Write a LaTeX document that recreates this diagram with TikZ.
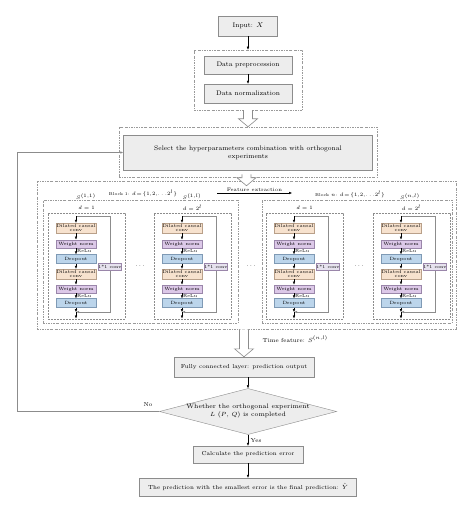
\documentclass[tikz,border=0pt]{standalone}
\usetikzlibrary{shapes.geometric,calc,arrows.meta}

\definecolor{boxgray}{HTML}{EDEDED}
\definecolor{linegray}{HTML}{8C8C8C}
\definecolor{framegray}{HTML}{9A9A9A}
\definecolor{convfill}{HTML}{F7E2CE}
\definecolor{convline}{HTML}{B9A089}
\definecolor{normfill}{HTML}{DCC8E8}
\definecolor{normline}{HTML}{9A86AA}
\definecolor{dropfill}{HTML}{BCD5EB}
\definecolor{dropline}{HTML}{7F9AB5}
\definecolor{onefill}{HTML}{E6E2EE}

% open block arrow between two stages
\newcommand{\hollowarrow}[2]{%
  \coordinate (hs) at (#1 -| #2);
  \draw[linegray, line width=0.6pt, fill=white] ($(hs)+(-4.5,0)$) -- ($(#2)+(-4.5,-8)$)
    -- ($(#2)+(-9.5,-8)$) -- (#2) -- ($(#2)+(9.5,-8)$) -- ($(#2)+(4.5,-8)$) -- ($(hs)+(4.5,0)$);}

\tikzset{
  mainbox/.style={draw=linegray, fill=boxgray, inner sep=0pt, align=center,
    font=\fontsize{6.6}{8}\selectfont},
  smallmain/.style={mainbox, font=\fontsize{5.8}{7}\selectfont},
  frame/.style={draw=framegray, line width=0.5pt,
    dash pattern=on 2pt off 1.2pt on 0.4pt off 1.2pt},
  subframe/.style={draw=linegray, line width=0.8pt, dash pattern=on 1.8pt off 1.2pt},
  layer/.style={inner sep=0pt, minimum width=40pt, align=center,
    font=\fontsize{4.6}{4.8}\selectfont},
  dconv/.style={layer, draw=convline, fill=convfill, minimum height=10pt},
  wnorm/.style={layer, draw=normline, fill=normfill, minimum height=8.5pt},
  drop/.style={layer, draw=dropline, fill=dropfill, minimum height=9pt},
  onebyone/.style={draw=normline, fill=onefill, inner sep=0pt, minimum width=21pt,
    minimum height=7pt, font=\fontsize{4.4}{5}\selectfont},
  res/.style={draw=linegray, line width=0.6pt},
  relu/.style={anchor=west, inner sep=1pt, font=\fontsize{4.4}{5}\selectfont},
  lbl/.style={inner sep=0.5pt, font=\fontsize{5}{6}\selectfont},
  blocklbl/.style={inner sep=0.5pt, font=\fontsize{4.2}{5}\selectfont},
  note/.style={inner sep=0.5pt, font=\fontsize{5.8}{7}\selectfont}
}

\begin{document}
\begin{tikzpicture}[x=1pt, y=-1pt, >={Latex[length=3pt,width=2.6pt]}]
\useasboundingbox (0,0) rectangle (474,513);

% input and preprocessing
\node[mainbox, minimum width=59pt, minimum height=20pt] (input) at (248,26) {Input: $X$};
\node[frame, minimum width=108pt, minimum height=60pt] (prepframe) at (248,80) {};
\node[mainbox, minimum width=88pt, minimum height=18pt] (prep) at (248,65) {Data preprocession};
\node[mainbox, minimum width=88pt, minimum height=19pt] (norm) at (248,93.5) {Data normalization};
\draw[->] (input) -- (prepframe.north);
\draw[->] (prep) -- (norm);

% hyperparameter selection
\node[frame, minimum width=258pt, minimum height=50pt] (selframe) at (248,152) {};
\node[mainbox, minimum width=249pt, minimum height=35pt] (sel) at (248,152.5)
  {Select the hyperparameters combination with orthogonal\\experiments};
\hollowarrow{prepframe.south}{selframe.north}

% TCN blocks
\node[frame, minimum width=419pt, minimum height=148pt] (tcn) at (246.5,255) {};
\node[frame, minimum width=195pt, minimum height=123pt] (block1) at (140.5,261.5) {};
\node[frame, minimum width=190pt, minimum height=123pt] (blockn) at (357,261.5) {};
\coordinate (selbot) at ($(selframe.south)+(0,-3)$);
\coordinate (tcntop) at ($(tcn.north)+(0,5)$);
\hollowarrow{selbot}{tcntop}

\node[blocklbl] (lb1) at (143,193) {Block 1: $d\!=\!\{1,\!2,\!\ldots\!2^l\}$};
\node[blocklbl] (lbn) at (350,194) {Block $n$: $d\!=\!\{1,\!2,\!\ldots\!2^l\}$};
\node[lbl, anchor=south] (s11) at (86,200) {$S^{(1,1)}$};
\node[lbl, anchor=south] (s1l) at (192,200) {$S^{(1,l)}$};
\node[lbl, anchor=south] (snl) at (410,200) {$S^{(n,l)}$};
\coordinate (fe1) at (217,193);
\coordinate (fe2) at (292,193);
\draw[->] (fe1) -- node[lbl, above=1pt] {Feature extraction} (fe2);

\foreach \c/\i/\d in {76/a/1, 182/b/2^l, 294/c/1, 401/d/2^l} {
  \node[subframe, minimum width=77pt, minimum height=106pt] (sub\i) at (\c+10.5,266) {};
  \node[lbl] (d\i) at (\c+10.5,208) {$d=\d$};
  \coordinate (in\i) at (\c,216);
  \coordinate (rt\i) at (\c+34,216);
  \coordinate (rb\i) at (\c+34,312);
  \coordinate (m\i) at (\c,312);
  \coordinate (out\i) at (\c,318.5);
  \draw[res, ->] (in\i) -- (rt\i) -- (rb\i) -- (m\i);
  \node[onebyone] (cv\i) at (\c+34,266.5) {1*1 conv};
  \node[dconv] (dca\i) at (\c,228) {Dilated causal\\conv};
  \node[wnorm] (wna\i) at (\c,244) {Weight norm};
  \node[drop] (doa\i) at (\c,259) {Dropout};
  \node[dconv] (dcb\i) at (\c,274) {Dilated causal\\conv};
  \node[wnorm] (wnb\i) at (\c,289) {Weight norm};
  \node[drop] (dob\i) at (\c,303) {Dropout};
  \draw[->] (in\i) -- (dca\i);
  \draw[->] (dca\i) -- (wna\i);
  \draw[->] (wna\i) -- node[relu] {ReLu} (doa\i);
  \draw[->] (doa\i) -- (dcb\i);
  \draw[->] (dcb\i) -- (wnb\i);
  \draw[->] (wnb\i) -- node[relu] {ReLu} (dob\i);
  \draw[->] (dob\i) -- (m\i);
  \draw[->] (m\i) -- (out\i);
}
\node[note] (dots1) at (140,266) {$\cdots$};
\node[note] (dots2) at (251,266) {$\cdots$};
\node[note] (dots3) at (359,266) {$\cdots$};

% output stage
\node[smallmain, minimum width=140pt, minimum height=20pt] (fc) at (244,367)
  {Fully connected layer: prediction output};
\hollowarrow{tcn.south}{fc.north}
\node[note, anchor=west] (tf) at (262,339) {Time feature: $S^{(n,l)}$};

\node[mainbox, diamond, aspect=3.85, minimum width=150pt, minimum height=39pt,
  font=\fontsize{6.4}{8}\selectfont] (dia) at (248,411.5)
  {Whether the orthogonal experiment\\$L$ ($P$, $Q$) is completed};
\draw[->] (fc.south -| dia.north) -- (dia.north);

\coordinate (loopx) at (17,0);
\draw[res, ->] (dia.west) -- (dia.west -| loopx) |- (sel.west);
\node[note] (no) at (148,405) {No};

\node[smallmain, minimum width=110pt, minimum height=17pt] (calc) at (248,454.5)
  {Calculate the prediction error};
\draw[->] (dia.south) -- node[note, right=2pt] {Yes} (calc.north);

\node[smallmain, minimum width=217pt, minimum height=18pt] (final) at (248,487)
  {The prediction with the smallest error is the final prediction: $\hat{Y}$};
\draw[->] (calc) -- (final);
\end{tikzpicture}
\end{document}
